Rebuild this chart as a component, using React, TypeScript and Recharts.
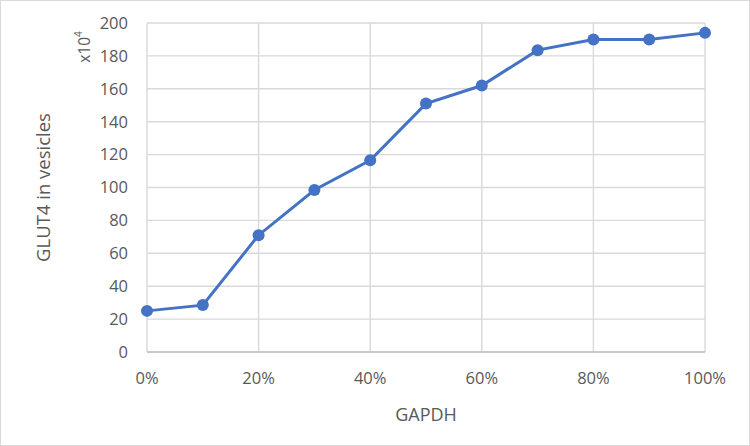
import { CartesianGrid, Line, LineChart, XAxis, YAxis } from 'recharts';

// GAPDH fraction (%) on x, GLUT4 in vesicles (x10^4) on y
const gapdh = [0, 10, 20, 30, 40, 50, 60, 70, 80, 90, 100];
const glut4 = [25, 28.5, 71, 98.5, 116.5, 151, 162, 183.5, 190, 190, 194];
const xTicks = [0, 20, 40, 60, 80, 100];
const yTicks = [0, 20, 40, 60, 80, 100, 120, 140, 160, 180, 200];

const data = gapdh.map((g, i) => ({ gapdh: g, glut4: glut4[i] }));

const font = '"Open Sans", "Liberation Sans", sans-serif';
const tickStyle = { fill: '#595959', fontSize: 16.5, fontFamily: font };

export default function App() {
  return (
    <div
      style={{
        position: 'absolute',
        left: 0,
        top: 0,
        width: 750,
        height: 446,
        border: '1px solid #d9d9d9',
        boxSizing: 'border-box',
        background: '#fff',
      }}
    >
      <LineChart width={748} height={444} data={data} margin={{ top: 22, right: 44, bottom: 0, left: 0 }}>
        <CartesianGrid stroke="#d9d9d9" strokeWidth={1.4} />
        <XAxis
          dataKey="gapdh"
          type="number"
          domain={[0, 100]}
          ticks={xTicks}
          tickFormatter={(v) => `${v}%`}
          height={93}
          tickLine={false}
          tickSize={0}
          tickMargin={20}
          axisLine={{ stroke: '#bfbfbf', strokeWidth: 1.4 }}
          tick={tickStyle}
          label={(p: any) => (
            <text
              x={p.viewBox.x + p.viewBox.width / 2}
              y={413}
              textAnchor="middle"
              dominantBaseline="central"
              fill="#595959"
              fontSize={18}
              fontFamily={font}
            >
              GAPDH
            </text>
          )}
        />
        <YAxis
          type="number"
          domain={[0, 200]}
          ticks={yTicks}
          width={146}
          tickLine={false}
          tickSize={0}
          tickMargin={19}
          axisLine={false}
          tick={tickStyle}
          label={(p: any) => {
            const cy = p.viewBox.y + p.viewBox.height / 2;
            return (
              <g>
                <text
                  x={41}
                  y={cy}
                  transform={`rotate(-90, 41, ${cy})`}
                  textAnchor="middle"
                  dominantBaseline="central"
                  fill="#595959"
                  fontSize={18.5}
                  fontFamily={font}
                >
                  GLUT4 in vesicles
                </text>
                <text
                  x={83}
                  y={46}
                  transform="rotate(-90, 83, 46)"
                  textAnchor="middle"
                  dominantBaseline="central"
                  fill="#595959"
                  fontSize={15.5}
                  fontFamily={font}
                >
                  x10
                  <tspan fontSize={10} dy={-6}>
                    4
                  </tspan>
                </text>
              </g>
            );
          }}
        />
        <Line
          dataKey="glut4"
          stroke="#4472c4"
          strokeWidth={3}
          dot={{ r: 6, fill: '#4472c4', stroke: '#4472c4', strokeWidth: 0 }}
          isAnimationActive={false}
        />
      </LineChart>
    </div>
  );
}
